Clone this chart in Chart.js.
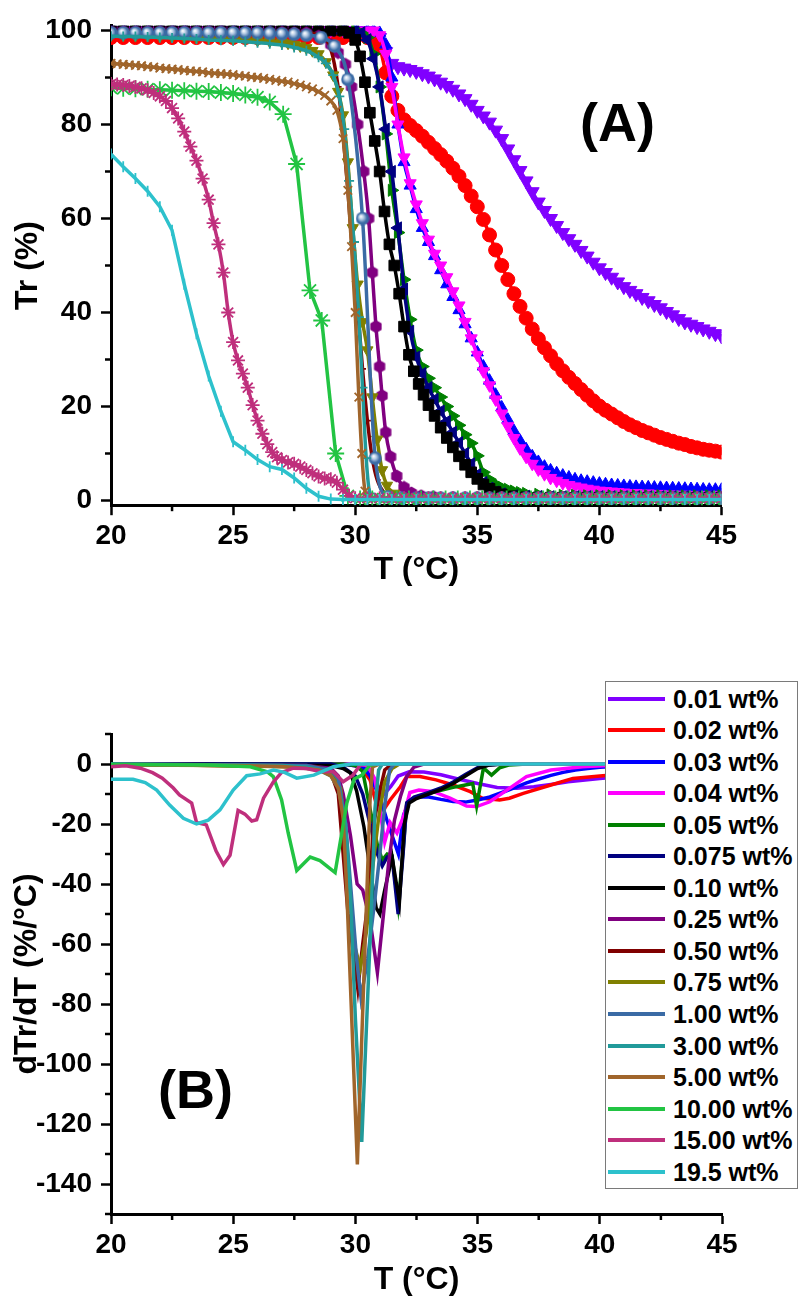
<!DOCTYPE html>
<html><head><meta charset="utf-8">
<script src="https://cdn.jsdelivr.net/npm/chart.js@4.4.1/dist/chart.umd.min.js"></script>
<style>
html,body{margin:0;padding:0;background:#fff;}
body{width:798px;height:1302px;position:relative;overflow:hidden;font-family:"Liberation Sans",Arial,sans-serif;}
#wa{position:absolute;left:0;top:0;width:798px;height:600px;}
#wb{position:absolute;left:0;top:610px;width:798px;height:692px;}
.tag{position:absolute;font-weight:bold;font-size:54px;line-height:1;color:#000;white-space:nowrap;}
#legend{position:absolute;left:605px;top:681px;width:193px;height:508px;border:1.5px solid #7a7a7a;background:#fff;box-sizing:border-box;}
.item{position:absolute;left:0;height:30px;width:190px;}
.sw{position:absolute;left:2px;top:13px;width:57px;height:4px;}
.lt{position:absolute;left:67px;top:0;font-weight:bold;font-size:25px;line-height:30px;color:#000;white-space:nowrap;}
</style></head>
<body>
<div id="wa"><canvas id="ca" width="798" height="600"></canvas></div>
<div id="wb"><canvas id="cb" width="798" height="692"></canvas></div>
<div class="tag" style="left:580px;top:95px;">(A)</div>
<div class="tag" style="left:158px;top:1062px;">(B)</div>
<div id="legend"></div>
<script>
// ---------- labels, colours, ticks ----------
const LABELS = ['0.01 wt%','0.02 wt%','0.03 wt%','0.04 wt%','0.05 wt%','0.075 wt%','0.10 wt%','0.25 wt%','0.50 wt%','0.75 wt%','1.00 wt%','3.00 wt%','5.00 wt%','10.00 wt%','15.00 wt%','19.5 wt%'];
const COLORS = ['#8000FF','#FF0000','#0000FF','#FF00FF','#008000','#000080','#000000','#800080','#800000','#808000','#3A6BA5','#219A9A','#A0652B','#22C443','#BF2F7C','#2DC1CC'];
const X_TICKS = [20,25,30,35,40,45];
const X_MINOR = [22.5,27.5,32.5,37.5,42.5];
const YA_TICKS = [0,20,40,60,80,100];
const YA_MINOR = [10,30,50,70,90];
const YB_TICKS = [0,-20,-40,-60,-80,-100,-120,-140];
const YB_MINOR = [10,-10,-30,-50,-70,-90,-110,-130,-150];

// ---------- (A) transmittance Tr (%) vs T (°C) ----------
const A_001 = [[20,100],[20.5,100],[21,100],[21.5,100],[22,100],[22.5,100],[23,100],[23.5,100],[24,100],[24.5,100],[25,100],[25.5,100],[26,100],[26.5,100],[27,100],[27.5,100],[28,100],[28.5,100],[29,100],[29.5,100],[30,100],[30.5,100],[30.75,99.5],[31,98.5],[31.25,95.5],[31.5,93],[31.75,92.3],[32,92],[32.25,91.7],[32.5,91.3],[32.75,90.8],[33,90.3],[33.25,89.7],[33.5,89],[33.75,88.3],[34,87.5],[34.25,86.5],[34.5,85.5],[34.75,84.3],[35,83],[35.25,81.8],[35.5,80.5],[35.75,78.8],[36,77],[36.25,74.8],[36.5,72.5],[36.75,70.2],[37,68],[37.25,65.7],[37.5,63.5],[37.75,61.7],[38,60],[38.25,58.5],[38.5,57],[38.75,55.7],[39,54.5],[39.25,53.2],[39.5,52],[39.75,50.7],[40,49.5],[40.25,48.5],[40.5,47.5],[40.75,46.5],[41,45.5],[41.25,44.7],[41.5,44],[41.75,43.2],[42,42.5],[42.25,41.7],[42.5,41],[42.75,40.2],[43,39.5],[43.25,38.7],[43.5,38],[43.75,37.5],[44,37],[44.25,36.5],[44.5,36],[44.75,35.5],[45,35]];
const A_002 = [[20,98.5],[20.5,98.5],[21,98.5],[21.5,98.5],[22,98.5],[22.5,98.5],[23,98.5],[23.5,98.5],[24,98.5],[24.5,98.5],[25,98.5],[25.5,98.5],[26,98.5],[26.5,98.5],[27,98.5],[27.5,98.5],[28,98.5],[28.5,98.5],[29,98.5],[29.5,98.5],[30,98.5],[30.5,98.5],[30.75,98],[31,96.5],[31.25,91],[31.5,86],[31.75,83],[32,81],[32.25,79.8],[32.5,78.7],[32.75,77.5],[33,76.2],[33.25,74.9],[33.5,73.6],[33.75,72.2],[34,70.7],[34.25,69],[34.5,67],[34.75,64.8],[35,62.5],[35.25,59.8],[35.5,56.5],[35.75,53.3],[36,50],[36.25,47],[36.5,44],[36.75,41.3],[37,38.8],[37.25,36.5],[37.5,34.4],[37.75,32.5],[38,30.8],[38.25,29.1],[38.5,27.6],[38.75,26.2],[39,24.9],[39.25,23.6],[39.5,22.4],[39.75,21.2],[40,20.1],[40.25,19.2],[40.5,18.4],[40.75,17.6],[41,16.8],[41.25,16.1],[41.5,15.5],[41.75,14.9],[42,14.4],[42.25,13.9],[42.5,13.4],[42.75,13],[43,12.6],[43.25,12.2],[43.5,11.9],[43.75,11.5],[44,11.2],[44.25,10.9],[44.5,10.7],[44.75,10.5],[45,10.3]];
const A_003 = [[20,100],[20.5,100],[21,100],[21.5,100],[22,100],[22.5,100],[23,100],[23.5,100],[24,100],[24.5,100],[25,100],[25.5,100],[26,100],[26.5,100],[27,100],[27.5,100],[28,100],[28.5,100],[29,100],[29.5,100],[30,100],[30.5,100],[30.75,100],[31,99.5],[31.25,97],[31.5,90],[31.75,80],[32,72],[32.25,67],[32.5,62],[32.75,58],[33,55],[33.25,52],[33.5,49],[33.75,46],[34,43.3],[34.25,40.5],[34.5,37.5],[34.75,34.5],[35,31.5],[35.25,28.5],[35.5,25.5],[35.75,22.5],[36,19.8],[36.25,17.2],[36.5,14.8],[36.75,12.7],[37,10.9],[37.25,9.4],[37.5,8.2],[37.75,7.2],[38,6.4],[38.25,5.8],[38.5,5.3],[38.75,4.9],[39,4.5],[39.25,4.2],[39.5,4],[39.75,3.8],[40,3.6],[40.25,3.45],[40.5,3.3],[40.75,3.2],[41,3.1],[41.25,3],[41.5,2.9],[41.75,2.85],[42,2.8],[42.25,2.75],[42.5,2.7],[42.75,2.65],[43,2.6],[43.25,2.55],[43.5,2.5],[43.75,2.45],[44,2.4],[44.25,2.35],[44.5,2.3],[44.75,2.3],[45,2.3]];
const A_004 = [[20,100],[20.5,100],[21,100],[21.5,100],[22,100],[22.5,100],[23,100],[23.5,100],[24,100],[24.5,100],[25,100],[25.5,100],[26,100],[26.5,100],[27,100],[27.5,100],[28,100],[28.5,100],[29,100],[29.5,100],[30,100],[30.5,100],[30.75,100],[31,99],[31.25,95],[31.5,88],[31.75,80],[32,73],[32.25,67.5],[32.5,63],[32.75,59],[33,55.5],[33.25,52.5],[33.5,50],[33.75,47.5],[34,44.5],[34.25,41.5],[34.5,38],[34.75,34.5],[35,31],[35.25,27.5],[35.5,24.5],[35.75,21.5],[36,18.5],[36.25,15.8],[36.5,13.3],[36.75,11.1],[37,9.3],[37.25,7.8],[37.5,6.6],[37.75,5.6],[38,4.8],[38.25,4.2],[38.5,3.7],[38.75,3.3],[39,3],[39.25,2.75],[39.5,2.5],[39.75,2.3],[40,2.1],[40.25,2],[40.5,1.9],[40.75,1.8],[41,1.7],[41.5,1.6],[42,1.5],[42.5,1.4],[43,1.3],[43.5,1.25],[44,1.2],[44.5,1.2],[45,1.2]];
const A_005 = [[20,100],[20.5,100],[21,100],[21.5,100],[22,100],[22.5,100],[23,100],[23.5,100],[24,100],[24.5,100],[25,100],[25.5,100],[26,100],[26.5,100],[27,100],[27.5,100],[28,100],[28.5,100],[29,100],[29.5,100],[30,100],[30.25,99.5],[30.5,98.5],[30.75,95],[31,88],[31.25,78],[31.5,66],[31.75,57],[32,47],[32.25,38.5],[32.5,32],[32.75,28.5],[33,26],[33.25,24],[33.5,22],[33.75,20],[34,18],[34.25,16],[34.5,14],[34.75,12.2],[35,9.5],[35.25,6],[35.5,4.5],[35.75,3.5],[36,2.8],[36.25,2.4],[36.5,2],[36.75,1.7],[37,1.5],[37.5,1.3],[38,1.2],[38.5,1.1],[39,1.1],[39.5,1],[40,1],[40.5,1],[41,1],[41.5,1],[42,1],[42.5,1],[43,1],[43.5,1],[44,1],[44.5,1],[45,1]];
const A_0075 = [[20,100],[20.5,100],[21,100],[21.5,100],[22,100],[22.5,100],[23,100],[23.5,100],[24,100],[24.5,100],[25,100],[25.5,100],[26,100],[26.5,100],[27,100],[27.5,100],[28,100],[28.5,100],[29,100],[29.5,100],[30,100],[30.25,99.5],[30.5,98],[30.75,94],[31,88],[31.25,79],[31.5,70],[31.75,58],[32,45],[32.25,36],[32.5,30.5],[32.75,27],[33,24],[33.25,21.5],[33.5,19],[33.75,16.8],[34,14.5],[34.25,12.3],[34.5,10],[34.75,7.8],[35,5.5],[35.25,3.8],[35.5,2.6],[35.75,1.8],[36,1.4],[36.5,1],[37,0.9],[37.5,0.85],[38,0.8],[38.5,0.8],[39,0.8],[39.5,0.8],[40,0.8],[40.5,0.8],[41,0.8],[41.5,0.8],[42,0.8],[42.5,0.8],[43,0.8],[43.5,0.8],[44,0.8],[44.5,0.8],[45,0.8]];
const A_010 = [[20,100],[20.5,100],[21,100],[21.5,100],[22,100],[22.5,100],[23,100],[23.5,100],[24,100],[24.5,100],[25,100],[25.5,100],[26,100],[26.5,100],[27,100],[27.5,100],[28,100],[28.5,100],[29,100],[29.5,100],[29.75,99.5],[30,98],[30.2,94.5],[30.4,89],[30.6,82.5],[30.8,76.5],[31,70],[31.2,61.5],[31.4,54.5],[31.6,50],[31.8,44],[32,37],[32.2,31],[32.4,27.5],[32.6,24.8],[32.8,22.5],[33,20.3],[33.25,18],[33.5,15.5],[33.75,13.3],[34,11.3],[34.25,9.4],[34.5,7.6],[34.75,6],[35,4.6],[35.25,3.4],[35.5,2.5],[35.75,1.8],[36,1.3],[36.5,0.9],[37,0.7],[37.5,0.65],[38,0.6],[38.5,0.6],[39,0.6],[39.5,0.6],[40,0.6],[40.5,0.6],[41,0.6],[41.5,0.6],[42,0.6],[42.5,0.6],[43,0.6],[43.5,0.6],[44,0.6],[44.5,0.6],[45,0.6]];
const A_025 = [[20,99.8],[20.5,99.8],[21,99.8],[21.5,99.8],[22,99.8],[22.5,99.8],[23,99.8],[23.5,99.8],[24,99.8],[24.5,99.8],[25,99.7],[25.5,99.7],[26,99.7],[26.5,99.6],[27,99.6],[27.5,99.5],[28,99.5],[28.5,98.8],[29,97],[29.3,95.3],[29.6,92.8],[29.85,88],[30.1,80],[30.35,70],[30.55,60],[30.7,48.5],[30.85,37],[31,28.5],[31.1,22.3],[31.25,14.5],[31.45,9.3],[31.7,5.2],[32,2.8],[32.3,1.6],[32.7,1],[33.2,0.8],[34,0.6],[35,0.6],[36,0.6],[37,0.6],[38,0.6],[39,0.6],[40,0.6],[41,0.6],[42,0.6],[43,0.6],[44,0.6],[45,0.6]];
const A_050 = [[20,99.8],[20.5,99.8],[21,99.8],[21.5,99.8],[22,99.8],[22.5,99.8],[23,99.8],[23.5,99.8],[24,99.8],[24.5,99.8],[25,99.8],[25.5,99.8],[26,99.8],[26.5,99.7],[27,99.7],[27.5,99.6],[28,99.5],[28.5,99],[29,96],[29.3,88],[29.5,78],[29.7,66],[29.9,52],[30.1,41],[30.3,28],[30.5,17],[30.7,9],[30.9,4.4],[31.2,1.5],[31.6,0.6],[32,0.5],[33,0.5],[34,0.5],[35,0.5],[36,0.5],[37,0.5],[38,0.5],[39,0.5],[40,0.5],[41,0.5],[42,0.5],[43,0.5],[44,0.5],[45,0.5]];
const A_075 = [[20,99],[20.5,99],[21,98.9],[21.5,98.9],[22,98.8],[22.5,98.7],[23,98.6],[23.5,98.5],[24,98.4],[24.5,98.3],[25,98.2],[25.5,98.1],[26,97.9],[26.5,97.7],[27,97.5],[27.25,97.3],[27.5,97],[27.75,96.7],[28,96.3],[28.25,95.7],[28.5,95],[28.8,93.3],[29.1,90.5],[29.3,87],[29.5,82],[29.7,72],[29.9,58],[30.1,46],[30.3,38],[30.5,32],[30.7,22],[30.9,13],[31.1,6.5],[31.3,3.2],[31.6,1.5],[32,0.8],[32.5,0.6],[33,0.5],[34,0.5],[35,0.5],[36,0.5],[37,0.5],[38,0.5],[39,0.5],[40,0.5],[41,0.5],[42,0.5],[43,0.5],[44,0.5],[45,0.5]];
const A_100 = [[20,99.5],[20.5,99.5],[21,99.5],[21.5,99.5],[22,99.5],[22.5,99.5],[23,99.5],[23.5,99.5],[24,99.5],[24.5,99.5],[25,99.5],[25.5,99.5],[26,99.5],[26.5,99.4],[27,99.3],[27.5,99.2],[28,99],[28.6,98.5],[29.15,96.7],[29.7,89.6],[30.3,60],[30.82,9],[31.35,0.8],[31.9,0.5],[32.5,0.5],[33,0.5],[33.5,0.5],[34,0.5],[34.5,0.5],[35,0.5],[35.5,0.5],[36,0.5],[36.5,0.5],[37,0.5],[37.5,0.5],[38,0.5],[38.5,0.5],[39,0.5],[39.5,0.5],[40,0.5],[40.5,0.5],[41,0.5],[41.5,0.5],[42,0.5],[42.5,0.5],[43,0.5],[43.5,0.5],[44,0.5],[44.5,0.5],[45,0.5]];
const A_300 = [[20,98.8],[20.5,98.7],[21,98.7],[21.5,98.6],[22,98.5],[22.5,98.4],[23,98.3],[23.5,98.2],[24,98],[24.5,97.9],[25,97.8],[25.5,97.6],[26,97.4],[26.5,97.2],[27,96.9],[27.5,96.4],[28,95.7],[28.5,94.3],[28.8,93],[29.1,90.5],[29.35,86],[29.55,79],[29.75,68],[29.95,55],[30.15,39],[30.3,24],[30.45,9],[30.6,1.5],[30.8,0.5],[31,0.4],[31.5,0.4],[32,0.4],[32.5,0.4],[33,0.4],[33.5,0.4],[34,0.4],[34.5,0.4],[35,0.4],[35.5,0.4],[36,0.4],[36.5,0.4],[37,0.4],[37.5,0.4],[38,0.4],[38.5,0.4],[39,0.4],[39.5,0.4],[40,0.4],[40.5,0.4],[41,0.4],[41.5,0.4],[42,0.4],[42.5,0.4],[43,0.4],[43.5,0.4],[44,0.4],[44.5,0.4],[45,0.4]];
const A_500 = [[20,93],[20.25,92.9],[20.5,92.8],[20.75,92.7],[21,92.6],[21.25,92.5],[21.5,92.3],[21.75,92.2],[22,92],[22.25,91.9],[22.5,91.8],[22.75,91.7],[23,91.5],[23.25,91.4],[23.5,91.3],[23.75,91.2],[24,91],[24.25,90.9],[24.5,90.8],[24.75,90.7],[25,90.6],[25.25,90.4],[25.5,90.3],[25.75,90.1],[26,90],[26.25,89.8],[26.5,89.6],[26.75,89.4],[27,89.2],[27.25,89],[27.5,88.7],[27.75,88.4],[28,88],[28.25,87.6],[28.5,87],[28.75,86.2],[29,85],[29.25,83],[29.5,77],[29.7,66],[29.85,54],[30,40],[30.15,22],[30.27,10],[30.4,2],[30.55,0.5],[31,0.4],[31.5,0.4],[32,0.4],[32.5,0.4],[33,0.4],[33.5,0.4],[34,0.4],[34.5,0.4],[35,0.4],[35.5,0.4],[36,0.4],[36.5,0.4],[37,0.4],[37.5,0.4],[38,0.4],[38.5,0.4],[39,0.4],[39.5,0.4],[40,0.4],[40.5,0.4],[41,0.4],[41.5,0.4],[42,0.4],[42.5,0.4],[43,0.4],[43.5,0.4],[44,0.4],[44.5,0.4],[45,0.4]];
const A_1000 = [[20,87.8],[20.5,87.7],[21,87.6],[21.5,87.5],[22,87.4],[22.5,87.3],[23,87.2],[23.5,87.1],[24,87],[24.5,86.8],[25,86.6],[25.5,86.3],[26,85.8],[26.5,84.8],[27.05,82.2],[27.6,71.6],[28.15,44.7],[28.63,38.3],[29.2,10],[29.7,1],[30.2,0.3],[30.7,0.3],[31.2,0.3],[31.7,0.3],[32.2,0.3],[32.7,0.3],[33.2,0.3],[33.7,0.3],[34.2,0.3],[34.7,0.3],[35.2,0.3],[35.7,0.3],[36.2,0.3],[36.7,0.3],[37.2,0.3],[37.7,0.3],[38.2,0.3],[38.7,0.3],[39.2,0.3],[39.7,0.3],[40.2,0.3],[40.7,0.3],[41.2,0.3],[41.7,0.3],[42.2,0.3],[42.7,0.3],[43.2,0.3],[43.7,0.3],[44.2,0.3],[44.7,0.3]];
const A_1500 = [[20,88.6],[20.25,88.5],[20.5,88.4],[20.75,88.2],[21,88],[21.25,87.7],[21.5,87.3],[21.75,86.7],[22,86],[22.25,85],[22.5,83.5],[22.75,81.3],[23,78.5],[23.25,75.3],[23.5,72.3],[23.75,68.5],[24,64],[24.2,59],[24.4,54.5],[24.6,48.5],[24.8,40],[25,33.7],[25.2,29.8],[25.4,27],[25.6,24],[25.8,20.3],[26,17],[26.2,14.2],[26.4,12],[26.6,10.3],[26.8,9.2],[27,8.6],[27.25,8.1],[27.5,7.8],[27.75,7.2],[28,6.5],[28.25,5.8],[28.5,5.1],[28.75,4.7],[29,4.5],[29.25,3.8],[29.5,2.3],[29.75,1],[30,0.5],[30.5,0.5],[31,0.5],[31.5,0.5],[32,0.5],[32.5,0.5],[33,0.5],[33.5,0.5],[34,0.5],[34.5,0.5],[35,0.5],[35.5,0.5],[36,0.5],[36.5,0.5],[37,0.5],[37.5,0.5],[38,0.5],[38.5,0.5],[39,0.5],[39.5,0.5],[40,0.5],[40.5,0.5],[41,0.5],[41.5,0.5],[42,0.5],[42.5,0.5],[43,0.5],[43.5,0.5],[44,0.5],[44.5,0.5],[45,0.5]];
const A_1950 = [[20,73.7],[20.5,71],[21,68.5],[21.5,65.8],[22,62.5],[22.5,57.5],[23,46],[23.5,35.5],[24,26.5],[24.5,19],[25,12.5],[25.5,10.7],[26,8.7],[26.5,7.2],[27,6.6],[27.5,4.8],[28,2.6],[28.5,0.9],[29,0.3],[29.5,0.2],[30,0.2],[30.5,0.2],[31,0.2],[31.5,0.2],[32,0.2],[32.5,0.2],[33,0.2],[33.5,0.2],[34,0.2],[34.5,0.2],[35,0.2],[35.5,0.2],[36,0.2],[36.5,0.2],[37,0.2],[37.5,0.2],[38,0.2],[38.5,0.2],[39,0.2],[39.5,0.2],[40,0.2],[40.5,0.2],[41,0.2],[41.5,0.2],[42,0.2],[42.5,0.2],[43,0.2],[43.5,0.2],[44,0.2],[44.5,0.2],[45,0.2]];

// ---------- (B) derivative dTr/dT (%/°C) vs T (°C) ----------
const B_001 = [[20,0],[29,0],[30.2,-0.2],[30.5,-1.5],[30.85,-6.5],[31.15,-10.3],[31.45,-7.5],[31.75,-4],[32.2,-2.6],[32.8,-2.7],[33.5,-3.6],[34.2,-5],[35,-6.5],[35.8,-7.8],[36.6,-8.1],[37.3,-7.6],[38,-6.8],[38.7,-5.9],[40,-4.8],[41,-4.2],[42,-3.6],[43,-3],[44,-2.6],[45,-2.2]];
const B_002 = [[20,0],[29.5,0],[30.2,-0.8],[30.6,-5.3],[30.88,-14.2],[31.15,-15.3],[31.42,-12],[31.84,-7.6],[32.1,-4.2],[32.64,-4.2],[33.3,-5.3],[34,-7],[34.7,-9.2],[35.2,-11.4],[35.9,-12],[36.3,-11.4],[36.87,-9.8],[38,-7],[38.9,-4.8],[40,-4],[41,-3.3],[42,-2.6],[43,-2],[44,-1.5],[45,-1.1]];
const B_003 = [[20,0],[29.5,0],[30.3,-1],[30.6,-4],[31,-11],[31.3,-19],[31.55,-25],[31.76,-30],[31.97,-17],[32.23,-12],[32.6,-11],[33,-11],[33.5,-11.8],[34,-12.5],[34.5,-12.7],[35,-12],[35.5,-11],[36,-9.5],[36.6,-7.6],[37,-6.3],[37.5,-5],[38,-3.8],[38.5,-2.8],[39,-2],[39.5,-1.5],[40,-1.1],[41,-0.7],[42,-0.4],[43,-0.2],[45,0]];
const B_004 = [[20,0],[30,0],[30.5,-0.5],[30.8,-5],[31,-15],[31.2,-26],[31.42,-19.5],[31.7,-23],[31.97,-17.5],[32.23,-9.5],[32.6,-8.7],[33.2,-9.2],[33.87,-11.4],[34.55,-14],[34.96,-14.2],[35.5,-12.6],[36.2,-8.7],[37,-4.2],[38,-2],[39.3,-0.9],[40.5,-0.4],[42,-0.2],[45,0]];
const B_005 = [[20,0],[29.5,0],[30,-0.5],[30.3,-2.5],[30.6,-15],[30.9,-27],[31.1,-32],[31.3,-30],[31.5,-30.5],[31.75,-47],[31.95,-29],[32.1,-13],[32.5,-11],[33,-9.8],[33.5,-8.8],[34,-7.8],[34.5,-7],[34.8,-6.5],[34.96,-14],[35.24,-1.3],[35.57,-3.7],[35.9,-1.3],[36.3,-0.3],[37,0],[45,0]];
const B_0075 = [[20,0],[29,0],[29.5,-1],[30,-4],[30.3,-10],[30.6,-20],[30.9,-30],[31.1,-34],[31.3,-31],[31.5,-31],[31.75,-50],[31.95,-30],[32.1,-13],[32.4,-11],[33,-9.5],[33.5,-8],[34,-6],[34.5,-3.5],[35,-1.2],[35.5,-0.3],[36,0],[45,0]];
const B_010 = [[20,0],[29,-0.5],[29.5,-1.5],[29.8,-3],[30.05,-9],[30.35,-21],[30.6,-35],[30.85,-48],[31,-50],[31.2,-42],[31.5,-31],[31.8,-46],[32,-20],[32.2,-13],[32.5,-11.5],[33,-10],[33.5,-8.5],[34,-6.5],[34.5,-4],[35,-1.5],[35.5,-0.3],[36,0],[45,0]];
const B_025 = [[20,0],[28,-0.5],[29,-1.5],[29.3,-4],[29.5,-10],[29.8,-24],[30.07,-40],[30.3,-42],[30.6,-52],[30.9,-69.5],[31.15,-50],[31.36,-33],[31.6,-18.7],[31.84,-10.9],[32.1,-4.2],[32.4,-1],[32.8,0],[45,0]];
const B_050 = [[20,0],[28.5,-1],[29,-3],[29.3,-10],[29.5,-30],[29.7,-50],[29.9,-62],[30.1,-75],[30.3,-60],[30.53,-45],[30.75,-20],[31,-9],[31.2,-2],[31.5,0],[45,0]];
const B_075 = [[20,0],[28,-1],[29,-3],[29.4,-8],[29.7,-35],[29.95,-60],[30.2,-68],[30.45,-56],[30.7,-35],[30.95,-18],[31.2,-6],[31.5,-1.5],[31.8,0],[45,0]];
const B_100 = [[20,0],[28,-0.5],[29,-2],[29.3,-5],[29.6,-20],[29.85,-45],[30.05,-65],[30.23,-78],[30.5,-65],[30.8,-45],[31,-30],[31.2,-14],[31.4,-2],[31.6,0],[45,0]];
const B_300 = [[20,0],[27,-0.5],[28,-1],[28.5,-2],[29,-4],[29.3,-8],[29.6,-20],[29.8,-45],[30,-85],[30.26,-126],[30.45,-88],[30.67,-45],[30.8,-15],[30.95,-2],[31.1,0],[45,0]];
const B_500 = [[20,-0.3],[25,-0.5],[27,-0.8],[28,-1.5],[28.5,-2],[29,-4],[29.3,-8],[29.5,-18],[29.66,-45],[30.08,-133.5],[30.46,-45],[30.6,-12],[30.7,-1],[31,0],[45,0]];
const B_1000 = [[20,-0.2],[24,-0.3],[25.7,-0.9],[26.4,-2.6],[26.64,-4.2],[26.98,-12],[27.25,-23],[27.6,-35.5],[28.15,-31],[28.55,-32.2],[29.17,-36.2],[29.65,-13],[29.95,-5],[30.27,-3.7],[30.6,-0.3],[31,0],[45,0]];
const B_1500 = [[20,-0.9],[20.6,-0.6],[21.2,-1.4],[21.7,-2.9],[22.1,-4.7],[22.55,-8],[22.8,-10.3],[23.3,-13],[23.5,-19.5],[23.9,-20.3],[24.3,-29],[24.6,-33.5],[24.87,-30.4],[25.2,-15.5],[25.48,-16.7],[25.76,-19],[25.96,-18.6],[26.24,-11.4],[26.64,-6],[26.98,-2.8],[27.46,-1.4],[28,-1.5],[28.55,-2.5],[29.1,-2.6],[29.5,-5.9],[29.9,-3.7],[30.2,-0.3],[30.5,0],[45,0]];
const B_1950 = [[20,-5.1],[20.9,-5.1],[21.4,-6.2],[21.87,-8.7],[22.4,-13.7],[22.96,-18.1],[23.5,-20],[23.98,-18.7],[24.46,-15.3],[25,-8.7],[25.55,-3.9],[26.1,-3.3],[26.65,-2],[27.1,-2.8],[27.6,-4.7],[28.3,-3.7],[29.1,-0.9],[29.8,0],[45,0]];

const SERIES_A = [A_001,A_002,A_003,A_004,A_005,A_0075,A_010,A_025,A_050,A_075,A_100,A_300,A_500,A_1000,A_1500,A_1950];
const SERIES_B = [B_001,B_002,B_003,B_004,B_005,B_0075,B_010,B_025,B_050,B_075,B_100,B_300,B_500,B_1000,B_1500,B_1950];

// ---------- marker styles (style only) ----------
function sphereImg(color, r){
  const c=document.createElement('canvas'); c.width=c.height=2*r;
  const g=c.getContext('2d');
  const gr=g.createRadialGradient(r*0.75,r*0.7,0.3,r,r,r);
  gr.addColorStop(0,'#ffffff'); gr.addColorStop(0.3,'#b8cde6'); gr.addColorStop(0.7,color); gr.addColorStop(1,color);
  g.fillStyle=gr; g.beginPath(); g.arc(r,r,r-0.3,0,Math.PI*2); g.fill(); return c;
}
function hexImg(color, r){
  const c=document.createElement('canvas'); c.width=c.height=2*r;
  const g=c.getContext('2d'); g.fillStyle=color; g.beginPath();
  for(let k=0;k<6;k++){const a=Math.PI/6+k*Math.PI/3; const px=r+(r-0.5)*Math.cos(a), py=r+(r-0.5)*Math.sin(a); k?g.lineTo(px,py):g.moveTo(px,py);}
  g.closePath(); g.fill(); return c;
}
const MARKERS = [
  {s:'triangle',rot:180,r:8},{s:'circle',rot:0,r:7},{s:'triangle',rot:0,r:7},{s:'triangle',rot:180,r:7},
  {s:'triangle',rot:90,r:7},{s:'triangle',rot:-90,r:7},{s:'rect',rot:0,r:7.5},{s:hexImg('#800080',7),rot:0,r:7},
  {s:'dash',rot:0,r:3.5},{s:'triangle',rot:180,r:6.5},{s:sphereImg('#3A6BA5',7),rot:0,r:7},{s:'cross',rot:0,r:5},
  {s:'crossRot',rot:0,r:6},{s:'star',rot:0,r:8.5},{s:'star',rot:0,r:7},{s:'line',rot:90,r:5.5}
];
const STRAIGHT = {13:true,15:true};

// ---------- minor tick plugin (uses the chart's own scales) ----------
const minorTicks = {
  id:'minorTicks',
  afterDraw(chart, args, opts){
    const ctx=chart.ctx, xs=chart.scales.x, ys=chart.scales.y;
    ctx.save(); ctx.strokeStyle='#000'; ctx.lineWidth=2.5;
    (opts.x||[]).forEach(v=>{const p=xs.getPixelForValue(v); ctx.beginPath(); ctx.moveTo(p,xs.top); ctx.lineTo(p,xs.top+6); ctx.stroke();});
    (opts.y||[]).forEach(v=>{const p=ys.getPixelForValue(v); ctx.beginPath(); ctx.moveTo(ys.right,p); ctx.lineTo(ys.right-6,p); ctx.stroke();});
    ctx.restore();
  }
};

const FONT = 'Liberation Sans';
function xAxis(axisH, titlePad){
  return {type:'linear', min:20, max:45,
    afterBuildTicks:s=>{s.ticks=X_TICKS.map(v=>({value:v}));},
    afterFit:s=>{s.height=axisH;},
    ticks:{color:'#000', font:{family:FONT,weight:'bold',size:28}, padding:4, maxRotation:0, autoSkip:false, callback:v=>String(v)},
    grid:{display:true, drawOnChartArea:false, drawTicks:true, tickLength:10, tickWidth:2.5, tickColor:'#000'},
    border:{display:true, color:'#000', width:3},
    title:{display:true, text:'T (°C)', color:'#000', font:{family:FONT,weight:'bold',size:32}, padding:{top:0,bottom:titlePad}}
  };
}
function yAxis(min,max,ticks,title,titlePad){
  return {type:'linear', min:min, max:max,
    afterBuildTicks:s=>{s.ticks=ticks.map(v=>({value:v}));},
    afterFit:s=>{s.width=111;},
    ticks:{color:'#000', font:{family:FONT,weight:'bold',size:28}, padding:9, autoSkip:false, callback:v=>String(v)},
    grid:{display:true, drawOnChartArea:false, drawTicks:true, tickLength:10, tickWidth:2.5, tickColor:'#000'},
    border:{display:true, color:'#000', width:3},
    title:{display:true, text:title, color:'#000', font:{family:FONT,weight:'bold',size:32}, padding:{top:titlePad,bottom:0}}
  };
}

const dsA = SERIES_A.map((s,i)=>({
  label:LABELS[i], data:s.map(p=>({x:p[0],y:p[1]})),
  borderColor:COLORS[i], backgroundColor:COLORS[i], borderWidth:3.5,
  pointStyle:MARKERS[i].s, pointRotation:MARKERS[i].rot, pointRadius:MARKERS[i].r,
  pointBorderWidth:(typeof MARKERS[i].s==='string' && ['cross','crossRot','star','line','dash'].includes(MARKERS[i].s))?1.8:1,
  pointBackgroundColor:COLORS[i], pointBorderColor:COLORS[i],
  tension:STRAIGHT[i]?0:0.4, cubicInterpolationMode:STRAIGHT[i]?'default':'monotone',
  order:16-i, fill:false
}));
const dsB = SERIES_B.map((s,i)=>({
  label:LABELS[i], data:s.map(p=>({x:p[0],y:p[1]})),
  borderColor:COLORS[i], backgroundColor:COLORS[i], borderWidth:3.5,
  pointRadius:0, tension:0, order:16-i, fill:false
}));

Chart.defaults.font.family = FONT;
new Chart(document.getElementById('ca'), {
  type:'line', data:{datasets:dsA}, plugins:[minorTicks],
  options:{responsive:false, animation:false, devicePixelRatio:1,
    layout:{padding:{top:24.6,right:76.5,bottom:0,left:0}},
    scales:{x:xAxis(94.8,11), y:yAxis(-1,101,YA_TICKS,'Tr (%)',9)},
    plugins:{legend:{display:false}, tooltip:{enabled:false}, minorTicks:{x:X_MINOR,y:YA_MINOR}}
  }
});
new Chart(document.getElementById('cb'), {
  type:'line', data:{datasets:dsB}, plugins:[minorTicks],
  options:{responsive:false, animation:false, devicePixelRatio:1,
    layout:{padding:{top:124,right:76,bottom:0,left:0}},
    scales:{x:xAxis(88,3), y:yAxis(-150,10,YB_TICKS,'dTr/dT (%/°C)',8)},
    plugins:{legend:{display:false}, tooltip:{enabled:false}, minorTicks:{x:X_MINOR,y:YB_MINOR}}
  }
});

// ---------- legend (HTML, built from labels & colours) ----------
const leg = document.getElementById('legend');
LABELS.forEach((lab,i)=>{
  const it=document.createElement('div'); it.className='item'; it.style.top=(1.5+i*31.55)+'px';
  const sw=document.createElement('div'); sw.className='sw'; sw.style.background=COLORS[i];
  const tx=document.createElement('div'); tx.className='lt'; tx.textContent=lab;
  it.appendChild(sw); it.appendChild(tx); leg.appendChild(it);
});
</script>
</body></html>
